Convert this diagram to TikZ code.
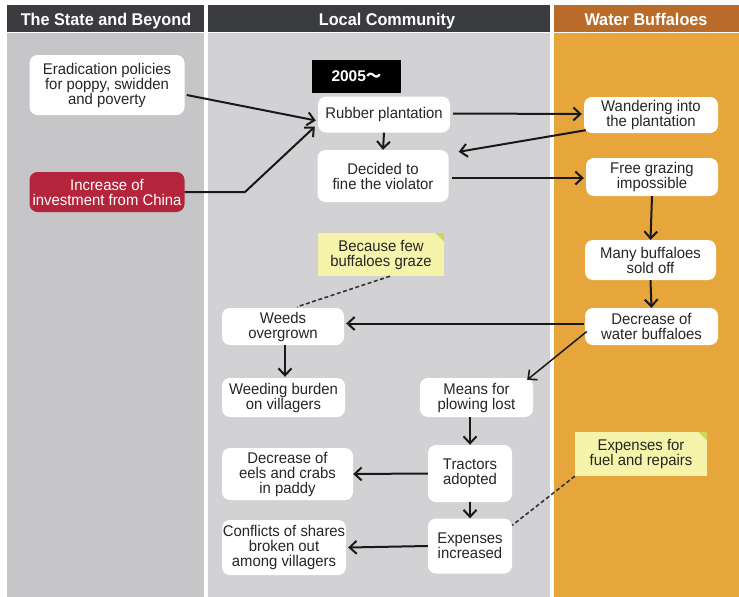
\documentclass[tikz,border=0pt]{standalone}
\usepackage{fontspec}
\setmainfont{Liberation Sans}
\newfontfamily\headfont[FakeStretch=0.955]{Liberation Sans}
\newfontfamily\bodyfont[FakeStretch=0.96]{Liberation Sans}
\newfontfamily\cjkfont{Noto Sans CJK JP}
\usetikzlibrary{arrows.meta,calc}

\definecolor{headgray}{HTML}{3B3C40}
\definecolor{headorange}{HTML}{B96B29}
\definecolor{leftgray}{HTML}{C6C6C9}
\definecolor{midgray}{HTML}{D2D2D5}
\definecolor{bodyorange}{HTML}{E6A63C}
\definecolor{chinared}{HTML}{B4243A}
\definecolor{notefill}{HTML}{F6F4AA}
\definecolor{notefold}{HTML}{D5D45C}

\tikzset{
  box/.style={fill=white, rounded corners=8pt, align=center, inner sep=0pt,
    font=\bodyfont\fontsize{15.5}{15}\selectfont, text=black!85},
  redbox/.style={box, fill=chinared, text=white},
  notebox/.style={fill=notefill, align=center, inner sep=0pt,
    font=\bodyfont\fontsize{15.5}{15}\selectfont, text=black!85},
  header/.style={text=white, anchor=base, font=\headfont\bfseries\fontsize{17}{18}\selectfont},
  flow/.style={draw=black!90, line width=2pt,
    -{Straight Barb[length=7pt, width=13pt, line width=2pt]}},
  thinflow/.style={draw=black!90, line width=1.5pt,
    -{Straight Barb[length=7pt, width=13pt, line width=1.6pt]}},
  notelink/.style={draw=black!80, line width=1.6pt, dash pattern=on 4pt off 2.5pt},
}

% folded corner of a sticky note
\newcommand{\notefoldat}[1]{%
  \fill[notefold] ($(#1.north east)+(-9,0)$) -- (#1.north east) -- ($(#1.north east)+(0,9)$) -- cycle;}

\begin{document}
\begin{tikzpicture}[x=1pt, y=-1pt]
\useasboundingbox (0,0) rectangle (739,597);
\fill[white] (0,0) rectangle (739,597);

% column headers
\fill[headgray] (7,5) rectangle (204,32);
\fill[headgray] (208,5) rectangle (550,32);
\fill[headorange] (554,5) rectangle (739,32);
% column bodies
\fill[leftgray] (7,33) rectangle (204,597);
\fill[midgray] (208,33) rectangle (550,597);
\fill[bodyorange] (554,33) rectangle (739,597);

\node[header] (h1) at (106,25) {The State and Beyond};
\node[header] (h2) at (387,25) {Local Community};
\node[header] (h3) at (646,25) {Water Buffaloes};

% the state and beyond
\node[box, minimum width=155pt, minimum height=60pt] (erad) at (107,85)
  {Eradication policies\\for poppy, swidden\\and poverty};
\node[redbox, minimum width=155pt, minimum height=40pt] (china) at (107,192)
  {Increase of\\investment from China};

% local community
\node[fill=black, text=white, minimum width=89pt, minimum height=33pt, inner sep=0pt,
  font=\bfseries\fontsize{15.5}{16}\selectfont] (year) at (356.5,76.5) {2005{\cjkfont ～}};
\node[box, minimum width=132pt, minimum height=36pt] (rubber) at (384,114.5) {Rubber plantation};
\node[box, minimum width=131pt, minimum height=52pt] (fine) at (383,176) {Decided to\\fine the violator};
\node[notebox, minimum width=126pt, minimum height=43pt] (fewgraze) at (381,254.5)
  {Because few\\buffaloes graze};
\notefoldat{fewgraze}
\node[box, minimum width=122pt, minimum height=37pt] (weeds) at (283,326.5) {Weeds\\overgrown};
\node[box, minimum width=123pt, minimum height=39pt] (weeding) at (283.5,397.5) {Weeding burden\\on villagers};
\node[box, minimum width=113pt, minimum height=39pt] (plow) at (476.5,397.5) {Means for\\plowing lost};
\node[box, minimum width=84pt, minimum height=57pt] (tractor) at (470,473.5) {Tractors\\adopted};
\node[box, minimum width=131pt, minimum height=52pt] (eels) at (287.5,474) {Decrease of\\eels and crabs\\in paddy};
\node[box, minimum width=84pt, minimum height=55pt] (expense) at (470,546) {Expenses\\increased};
\node[box, minimum width=124pt, minimum height=55pt] (conflict) at (284,547.5)
  {Conflicts of shares\\broken out\\among villagers};

% water buffaloes
\node[box, minimum width=134pt, minimum height=36pt] (wander) at (651,115) {Wandering into\\the plantation};
\node[box, minimum width=132pt, minimum height=38pt] (nograze) at (652,177) {Free grazing\\impossible};
\node[box, minimum width=131pt, minimum height=40pt] (sold) at (650.5,260) {Many buffaloes\\sold off};
\node[box, minimum width=133pt, minimum height=37pt] (decrease) at (651.5,326.5) {Decrease of\\water buffaloes};
\node[notebox, minimum width=132pt, minimum height=44pt] (fuel) at (641,454)
  {Expenses for\\fuel and repairs};
\notefoldat{fuel}

% connectors
\coordinate (chinabend) at (245,192);
\draw[flow] ($(erad.east)+(2,10)$) -- ($(rubber.west)+(-2,6)$);
\draw[flow] (china.east) -- (chinabend) -- ($(rubber.south west)+(-3,-6)$);
\draw[flow] (rubber.south) -- (fine.north);
\draw[flow] ($(rubber.east)+(3,-1)$) -- ($(wander.west)+(-2,-1)$);
\draw[flow] ($(wander.south west)+(2,-3)$) -- ($(fine.north east)+(10,2)$);
\draw[flow] ($(fine.east)+(3,2)$) -- ($(nograze.west)+(-2,1)$);
\draw[flow] (nograze.south) -- (sold.north);
\draw[flow] (sold.south) -- (decrease.north);
\draw[flow] ($(decrease.west)+(-1,-3)$) -- ($(weeds.east)+(2,-3)$);
\draw[thinflow] ($(decrease.west)+(2,5)$) -- ($(plow.north east)+(-6,2)$);
\draw[flow] ($(weeds.south)+(2,0)$) -- ($(weeding.north)+(1.5,-1)$);
\draw[flow] ($(plow.south)+(-6.5,0)$) -- (tractor.north);
\draw[flow] (tractor.west) -- (eels.east);
\draw[flow] (tractor.south) -- (expense.north);
\draw[flow] (expense.west) -- ($(conflict.east)+(2,0)$);

\draw[notelink] ($(fewgraze.south)+(9,0)$) -- ($(weeds.north)+(14,-1)$);
\draw[notelink] (fuel.south west) -- ($(expense.north east)+(0,7)$);
\end{tikzpicture}
\end{document}
